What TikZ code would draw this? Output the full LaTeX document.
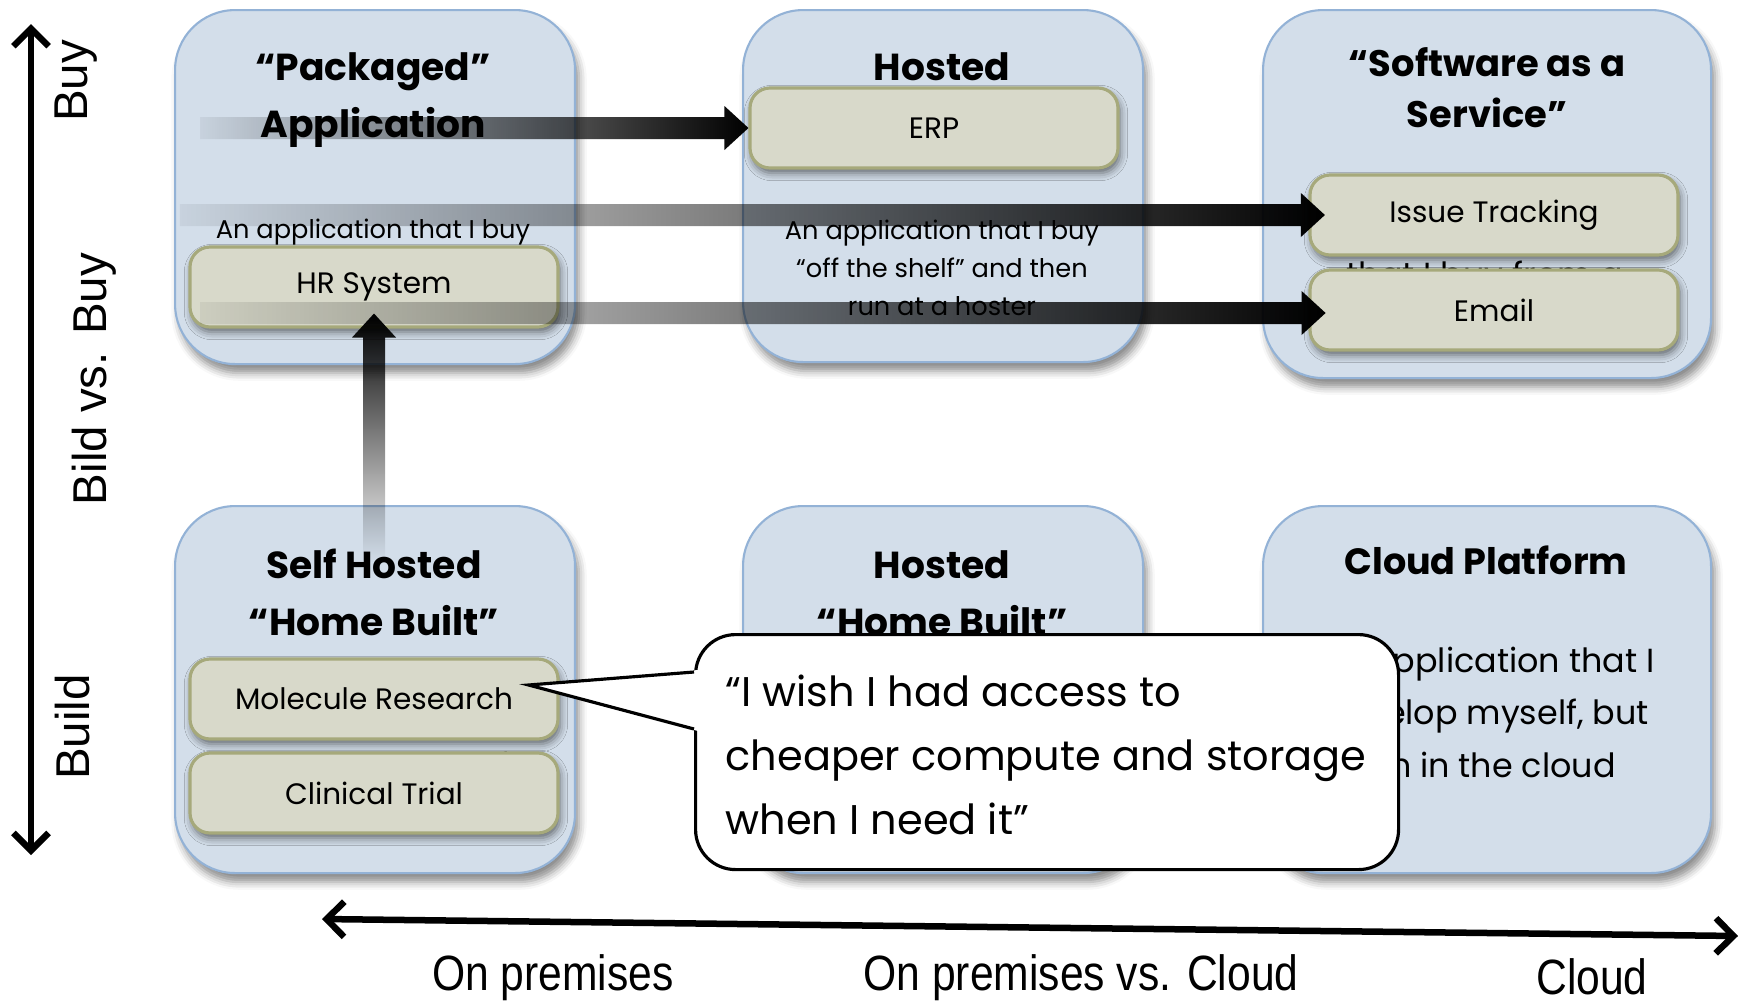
\documentclass[tikz,border=0pt]{standalone}
\usepackage{fontspec}
\setmainfont{Poppins}
\newfontfamily\axisfont[FakeStretch=0.86]{Liberation Sans}
\newfontfamily\vaxisfont{Liberation Sans}
\usetikzlibrary{arrows.meta,calc,fadings,shadows.blur}

\definecolor{boxfill}{HTML}{D3DEEA}
\definecolor{boxedge}{HTML}{93B2D6}
\definecolor{itemfill}{HTML}{D8D9CA}
\definecolor{itemedge}{HTML}{A6A97B}

\tikzfading[name=fadetoright, left color=transparent!95, middle color=transparent!35, right color=transparent!0]
\tikzfading[name=fadetotop, bottom color=transparent!100, middle color=transparent!40, top color=transparent!0]

\tikzset{
  bigbox/.style={draw=boxedge, line width=0.6pt, fill=boxfill, rounded corners=6mm,
    anchor=north west, inner sep=0pt,
    blur shadow={shadow xshift=0.4mm, shadow yshift=-0.9mm, shadow opacity=45}},
  itembox/.style={draw=itemedge, line width=0.9pt, fill=itemfill, rounded corners=2mm,
    minimum width=36.8mm, minimum height=8mm, inner sep=0pt,
    font=\fontsize{8.4}{10}\selectfont,
    blur shadow={shadow xshift=0.2mm, shadow yshift=-0.5mm, shadow opacity=55}},
  boxtitle/.style={align=center, anchor=base, inner sep=0pt,
    font=\bfseries\fontsize{10.7}{16.2}\selectfont},
  boxtext/.style={align=center, anchor=base, inner sep=0pt,
    font=\fontsize{7.3}{10.8}\selectfont},
  bigtext/.style={align=center, anchor=base, inner sep=0pt,
    font=\fontsize{9.5}{14.8}\selectfont},
  fatarrow/.style={fill=black, path fading=fadetoright},
  fatarrowup/.style={fill=black, path fading=fadetotop},
  axisline/.style={line width=1.85pt,
    {Straight Barb[length=5pt,width=10pt]}-{Straight Barb[length=5pt,width=10pt]}},
  vlabel/.style={rotate=90, anchor=base, inner sep=0pt,
    font=\vaxisfont\fontsize{13.5}{16}\selectfont},
  hlabel/.style={anchor=base, inner sep=0pt,
    font=\axisfont\fontsize{14.1}{17}\selectfont}
}

\begin{document}
\begin{tikzpicture}[x=0.1mm, y=-0.1mm]
\useasboundingbox (0,0) rectangle (1741,1000);

% the six fields
\node[bigbox, minimum width=40mm, minimum height=35.4mm] (packaged) at (174,9) {};
\node[bigbox, minimum width=40mm, minimum height=35.2mm] (hosted) at (742,9) {};
\node[bigbox, minimum width=44.8mm, minimum height=36.8mm] (saas) at (1262,9) {};
\node[bigbox, minimum width=40mm, minimum height=36.7mm] (selfhosted) at (174,505) {};
\node[bigbox, minimum width=40mm, minimum height=36.7mm] (hostedhome) at (742,505) {};
\node[bigbox, minimum width=44.8mm, minimum height=36.7mm] (cloudplat) at (1262,505) {};

% text lying under the items
\node[bigtext] (saasdesc) at (1485,286) {that I buy from a};
\node[boxtext] (selfdesc) at (374,771) {that I develop myself};

% applications
\node[itembox] (erp) at (934,128) {ERP};
\node[itembox] (hr) at (374,287) {HR System};
\node[itembox] (issue) at (1494,215) {Issue Tracking};
\node[itembox] (email) at (1494,310) {Email};
\node[itembox] (molecule) at (374,699) {Molecule Research};
\node[itembox] (clinical) at (374,793) {Clinical Trial};

% moves
\coordinate (tailerp) at (200,128);
\fill[fatarrow] ($(tailerp)+(0,-11)$) -- ($(erp.west)+(-24,-11)$) -- ($(erp.west)+(-24,-22)$)
  -- (erp.west) -- ($(erp.west)+(-24,22)$) -- ($(erp.west)+(-24,11)$) -- ($(tailerp)+(0,11)$) -- cycle;
\coordinate (tipissue) at ($(issue.west)+(17,0)$);
\coordinate (tailissue) at (180,215);
\fill[fatarrow] ($(tailissue)+(0,-11)$) -- ($(tipissue)+(-24,-11)$) -- ($(tipissue)+(-24,-22)$)
  -- (tipissue) -- ($(tipissue)+(-24,22)$) -- ($(tipissue)+(-24,11)$) -- ($(tailissue)+(0,11)$) -- cycle;
\coordinate (tipemail) at ($(email.west)+(17,3)$);
\coordinate (tailemail) at (200,313);
\fill[fatarrow] ($(tailemail)+(0,-11)$) -- ($(tipemail)+(-24,-11)$) -- ($(tipemail)+(-24,-22)$)
  -- (tipemail) -- ($(tipemail)+(-24,22)$) -- ($(tipemail)+(-24,11)$) -- ($(tailemail)+(0,11)$) -- cycle;
\coordinate (tiphr) at ($(hr.south)+(0,-15)$);
\coordinate (tailhr) at (374,562);
\fill[fatarrowup] ($(tailhr)+(-11,0)$) -- ($(tiphr)+(-11,24)$) -- ($(tiphr)+(-22,24)$)
  -- (tiphr) -- ($(tiphr)+(22,24)$) -- ($(tiphr)+(11,24)$) -- ($(tailhr)+(11,0)$) -- cycle;

% titles and descriptions (base = last line)
\node[boxtitle] (packagedtitle) at (373,137) {“Packaged”\\Application};
\node[boxtitle] (hostedtitle) at (942,80) {Hosted};
\node[boxtitle, font=\bfseries\fontsize{10.5}{14.5}\selectfont] (saastitle) at (1487,127) {“Software as a\\Service”};
\node[boxtitle] (selftitle) at (374,635) {Self Hosted\\“Home Built”};
\node[boxtitle] (hostedhometitle) at (942,635) {Hosted\\“Home Built”};
\node[boxtitle, font=\bfseries\fontsize{10.4}{14.5}\selectfont] (cloudtitle) at (1486,574) {Cloud Platform};
\node[boxtext] (packageddesc) at (373,238) {An application that I buy};
\node[boxtext] (hosteddesc) at (942,315) {An application that I buy\\“off the shelf” and then\\run at a hoster};
\node[bigtext] (clouddesc) at (1486,777) {An application that I\\develop myself, but\\run in the cloud};

% callout
\node[draw=black, line width=0.9pt, fill=white, rounded corners=4mm, minimum width=70.3mm,
  minimum height=23.5mm, anchor=north west, inner sep=0pt] (wishbox) at (694,633) {};
\coordinate (wishtip) at ($(molecule.east)+(-31,-14)$);
\fill[white] (wishtip) -- ($(wishbox.north west)+(4,37)$) -- ($(wishbox.north west)+(4,98)$) -- cycle;
\draw[line width=0.9pt] ($(wishbox.north west)+(0,39)$) -- (wishtip) -- ($(wishbox.north west)+(0,96)$);
\node[anchor=base west, align=left, inner sep=0pt, font=\fontsize{11.8}{18.2}\selectfont] (wishtext)
  at (725,834) {“I wish I had access to\\cheaper compute and storage\\when I need it”};

% axes
\coordinate (buyend) at (31,24);
\coordinate (buildend) at (31,855);
\draw[axisline] (buildend) -- (buyend);
\coordinate (premend) at (322,919);
\coordinate (cloudend) at (1738,936);
\draw[axisline] (premend) -- (cloudend);
\node[vlabel] (buylabel) at (87,81) {Buy};
\node[vlabel] (bildlabel) at (107,379) {Bild vs. Buy};
\node[vlabel] (buildlabel) at (89,727) {Build};
\node[hlabel] (premlabel) at (553,990) {On premises};
\node[hlabel] (midlabel) at (1081,990) {On premises vs. Cloud};
\node[hlabel] (cloudlabel) at (1592,994) {Cloud};
\end{tikzpicture}
\end{document}
